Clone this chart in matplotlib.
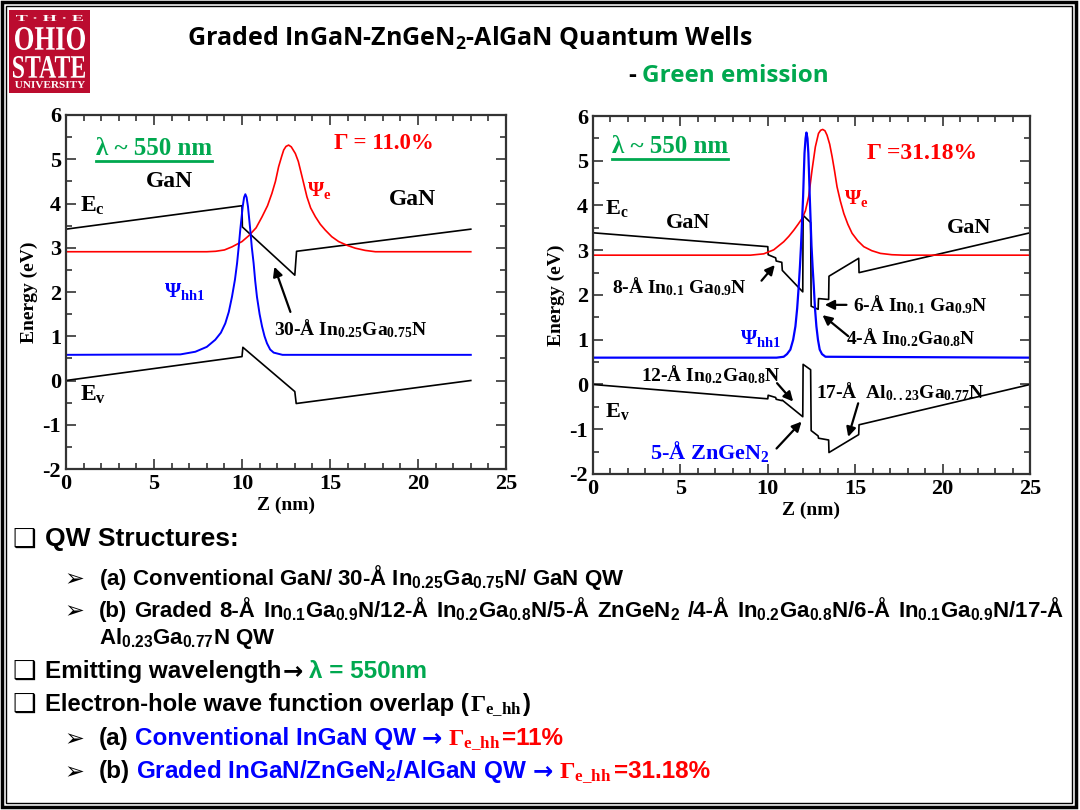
import numpy as np
import matplotlib
matplotlib.use("Agg")
import matplotlib.pyplot as plt
from matplotlib.ticker import MultipleLocator
from matplotlib.textpath import TextPath
from matplotlib.patches import PathPatch, Rectangle
from matplotlib.font_manager import FontProperties
from matplotlib.transforms import Affine2D
from matplotlib.lines import Line2D

# (a) conventional GaN / 30-A In0.25Ga0.75N / GaN QW
z_ec_a = [0, 10.0, 10.02, 13.0, 13.1, 23.0]
ec_a = [3.42, 3.95, 3.47, 2.38, 2.92, 3.42]
z_ev_a = [0, 10.0, 10.05, 13.0, 13.08, 23.0]
ev_a = [0.0, 0.54, 0.75, -0.25, -0.52, 0.0]
z_psie_a = [0, 8.0, 8.5, 9.0, 9.43, 10.0, 10.38, 10.8, 11.14, 11.45, 11.7, 11.9,
            12.08, 12.25, 12.37, 12.5, 12.65, 12.8, 13.03, 13.2, 13.41, 13.69,
            13.9, 14.17, 14.45, 14.73, 15.1, 15.49, 16.0, 16.44, 17.0, 17.58, 23.0]
psie_a = [2.91, 2.91, 2.92, 2.95, 3.02, 3.14, 3.27, 3.45, 3.70, 3.95, 4.23, 4.50,
          4.83, 5.06, 5.21, 5.29, 5.32, 5.28, 5.13, 4.95, 4.61, 4.15,
          3.90, 3.70, 3.53, 3.40, 3.25, 3.14, 3.05, 2.99, 2.94, 2.91, 2.91]
z_psih_a = [0, 6.5, 7.35, 8.0, 8.48, 8.8, 9.05, 9.25, 9.43, 9.6, 9.72, 9.82, 9.9,
            10.04, 10.12, 10.19, 10.26, 10.34, 10.47, 10.56, 10.66, 10.75, 10.85,
            11.0, 11.14, 11.28, 11.42, 11.6, 11.8, 12.3, 23.0]
psih_a = [0.58, 0.59, 0.65, 0.76, 0.92, 1.08, 1.29, 1.55, 1.89, 2.28, 2.65, 3.05, 3.40,
          3.93, 4.14, 4.21, 4.14, 3.93, 3.40, 3.0, 2.65, 2.25, 1.89,
          1.5, 1.22, 1.0, 0.84, 0.70, 0.63, 0.58, 0.58]

# (b) graded InGaN / ZnGeN2 / AlGaN QW
z_band_b = [0, 10.0, 10.02, 10.45, 10.48, 10.8, 10.83, 12.0, 12.02, 12.45, 12.48,
            12.88, 12.9, 13.48, 13.5, 15.2, 15.22, 25]
ec_b = [3.39, 3.08, 2.90, 2.83, 2.76, 2.73, 2.55, 2.07, 3.78, 3.62, 1.75,
        1.68, 1.92, 1.90, 2.42, 2.82, 2.50, 3.39]
ev_b = [0.0, -0.32, -0.24, -0.29, -0.33, -0.36, -0.35, -0.72, 0.45, 0.33, -1.03,
        -1.15, -1.20, -1.24, -1.52, -1.12, -0.90, 0.0]
z_psie_b = [0, 9.0, 9.77, 10.34, 10.91, 11.2, 11.49, 11.75, 11.96, 12.15, 12.34,
            12.53, 12.72, 12.9, 13.02, 13.14, 13.27, 13.39, 13.54, 13.68, 13.82,
            13.96, 14.15, 14.35, 14.58, 14.82, 15.15, 15.49, 15.95, 16.44, 17.1, 17.78, 25]
psie_b = [2.89, 2.89, 2.92, 3.01, 3.19, 3.31, 3.45, 3.59, 3.71, 3.88, 4.20,
          4.79, 5.31, 5.61, 5.68, 5.70, 5.67, 5.57, 5.37, 5.09, 4.77,
          4.42, 4.10, 3.82, 3.58, 3.38, 3.21, 3.08, 2.99, 2.93, 2.90, 2.89, 2.89]
z_psih_b = [0, 10.5, 10.91, 11.1, 11.29, 11.45, 11.58, 11.68, 11.77, 11.84, 11.9,
            11.96, 12.02, 12.06, 12.1, 12.16, 12.21, 12.27, 12.32, 12.36, 12.4,
            12.45, 12.5, 12.56, 12.63, 12.7, 12.78, 12.87, 12.97, 13.1, 13.3, 25]
psih_b = [0.60, 0.60, 0.62, 0.68, 0.78, 1.0, 1.3, 1.7, 2.2, 2.65, 3.1,
          3.65, 4.2, 4.7, 5.17, 5.5, 5.63, 5.5, 5.17, 4.7, 4.2,
          3.65, 3.1, 2.65, 2.2, 1.7, 1.3, 1.0, 0.78, 0.68, 0.62, 0.60]

GREEN = "#00a84f"
RED = "#ff0000"
BLUE = "#0000ff"
W, H = 1080, 810

plt.rcParams["font.family"] = ["Liberation Serif", "DejaVu Serif"]
plt.rcParams["font.weight"] = "bold"
plt.rcParams["axes.labelweight"] = "bold"
plt.rcParams["mathtext.default"] = "regular"
plt.rcParams["axes.unicode_minus"] = False

fig = plt.figure(figsize=(10.8, 8.1), dpi=100)
fig.patch.set_facecolor("white")
renderer = fig.canvas.get_renderer()


def fx(x):
    return x / W


def fy(y):
    return 1 - y / H


def rect_px(x0, y0, x1, y1, **kw):
    r = Rectangle((fx(x0), fy(y1)), (x1 - x0) / W, (y1 - y0) / H,
                  transform=fig.transFigure, **kw)
    fig.add_artist(r)


def fit_text(s, x0, y0, x1, y1):
    tp = TextPath((0, 0), s, size=10, prop=FontProperties(family="Liberation Serif"))
    bb = tp.get_extents()
    tr = (Affine2D().translate(-bb.x0, -bb.y0)
          .scale((x1 - x0) / bb.width / W, (y1 - y0) / bb.height / H)
          .translate(fx(x0), fy(y1)) + fig.transFigure)
    fig.add_artist(PathPatch(tp, transform=tr, color="white", lw=0))


def seq(x, y, parts, size):
    # parts: (text, color, family, gap after in px)
    for s, c, fam, gap in parts:
        t = fig.text(fx(x), fy(y), s, color=c, fontsize=size, family=fam,
                     fontweight="bold", va="baseline")
        x += t.get_window_extent(renderer).width + gap
    return x


def underline(t, color):
    bb = t.get_window_extent(renderer)
    y = bb.y0 - 1
    fig.add_artist(Line2D([bb.x0 / W, bb.x1 / W], [y / H, y / H], color=color,
                          lw=2, transform=fig.transFigure))


def style(ax):
    xt = np.arange(0, 26, 5)
    yt = np.arange(-2, 7, 1)
    ax.set_xticks(xt, labels=[f"{v:g}" for v in xt], fontweight="bold", fontsize=16)
    ax.set_yticks(yt, labels=[f"{v:g}" for v in yt], fontweight="bold", fontsize=16)
    ax.xaxis.set_minor_locator(MultipleLocator(1))
    ax.yaxis.set_minor_locator(MultipleLocator(0.5))
    ax.set_xlim(0, 25)
    ax.set_ylim(-2, 6)
    ax.tick_params(which="both", direction="in", top=True, right=True,
                   width=1.2, color="#333333")
    ax.tick_params(which="major", length=7)
    ax.tick_params(which="minor", length=4)
    for sp in ax.spines.values():
        sp.set_linewidth(1.6)
        sp.set_color("#333333")
    ax.set_xlabel("Z (nm)", fontsize=14, fontweight="bold", labelpad=2)
    ax.set_ylabel("Energy (eV)", fontsize=14, fontweight="bold", labelpad=3)


arrow = dict(arrowstyle="-|>", color="black", lw=1.6, mutation_scale=14,
             shrinkA=0, shrinkB=0)

# ---- left panel
ax1 = fig.add_axes([66 / W, 1 - 469 / H, 440 / W, 354 / H])
ax1.plot(z_ec_a, ec_a, color="black", lw=1.2)
ax1.plot(z_ev_a, ev_a, color="black", lw=1.2)
ax1.plot(z_psie_a, psie_a, color=RED, lw=1.2)
ax1.plot(z_psih_a, psih_a, color=BLUE, lw=1.4)
style(ax1)
lam1 = ax1.text(1.7, 5.25, "λ ~ 550 nm", color=GREEN, fontsize=18, va="center")
ax1.text(15.2, 5.36, "Γ = 11.0%", color=RED, fontsize=16.5, va="center")
ax1.text(5.9, 4.49, "GaN", ha="center", va="center", fontsize=17)
ax1.text(19.7, 4.09, "GaN", ha="center", va="center", fontsize=17)
ax1.text(0.81, 3.95, "E$_c$", va="center", fontsize=17)
ax1.text(0.81, -0.33, "E$_v$", va="center", fontsize=17)
ax1.text(13.7, 4.3, "Ψ$_e$", color=RED, va="center", fontsize=15)
ax1.text(5.55, 2.0, "Ψ$_{hh1}$", color=BLUE, va="center", fontsize=15)
ax1.text(11.8, 1.18, "30-Å In$_{0.25}$Ga$_{0.75}$N", va="center", fontsize=14)
ax1.annotate("", xy=(11.84, 2.57), xytext=(12.75, 1.55), arrowprops=arrow)

# ---- right panel
ax2 = fig.add_axes([593 / W, 1 - 474 / H, 437 / W, 358 / H])
ax2.plot(z_band_b, ec_b, color="black", lw=1.2)
ax2.plot(z_band_b, ev_b, color="black", lw=1.2)
ax2.plot(z_psie_b, psie_b, color=RED, lw=1.2)
ax2.plot(z_psih_b, psih_b, color=BLUE, lw=1.6)
style(ax2)
lam2 = ax2.text(1.1, 5.31, "λ ~ 550 nm", color=GREEN, fontsize=18, va="center")
ax2.text(15.7, 5.17, "Γ =31.18%", color=RED, fontsize=17, va="center")
ax2.text(0.67, 3.94, "E$_c$", va="center", fontsize=16)
ax2.text(0.67, -0.61, "E$_v$", va="center", fontsize=16)
ax2.text(5.44, 3.6, "GaN", ha="center", va="center", fontsize=16)
ax2.text(21.5, 3.49, "GaN", ha="center", va="center", fontsize=16)
ax2.text(14.35, 4.16, "Ψ$_e$", color=RED, va="center", fontsize=15)
ax2.text(8.4, 1.03, "Ψ$_{hh1}$", color=BLUE, va="center", fontsize=15)
ax2.text(1.1, 2.19, "8-Å In$_{0.1}$ Ga$_{0.9}$N", va="center", fontsize=14)
ax2.annotate("", xy=(10.4, 2.67), xytext=(9.64, 2.32), arrowprops=arrow)
ax2.text(14.85, 1.78, "6-Å In$_{0.1}$ Ga$_{0.9}$N", va="center", fontsize=14)
ax2.annotate("", xy=(13.26, 1.78), xytext=(14.5, 1.78), arrowprops=arrow)
ax2.text(14.47, 1.05, "4-Å In$_{0.2}$Ga$_{0.8}$N", va="center", fontsize=14)
ax2.annotate("", xy=(13.13, 1.55), xytext=(14.6, 1.08), arrowprops=arrow)
ax2.text(2.77, 0.21, "12-Å In$_{0.2}$Ga$_{0.8}$N", va="center", fontsize=14)
ax2.annotate("", xy=(11.45, -0.38), xytext=(10.53, 0.03), arrowprops=arrow)
ax2.text(12.75, -0.16, "17-Å  Al$_{0..23}$Ga$_{0.77}$N", va="center", fontsize=14)
ax2.annotate("", xy=(14.6, -1.17), xytext=(15.17, -0.42), arrowprops=arrow)
ax2.text(3.28, -1.5, "5-Å ZnGeN$_2$", color=BLUE, va="center", fontsize=16)
ax2.annotate("", xy=(11.93, -0.83), xytext=(10.5, -1.43), arrowprops=arrow)

underline(lam1, GREEN)
underline(lam2, GREEN)

# ---- slide frame and logo
rect_px(2, 2, 1076, 807, fill=False, lw=2.5, ec="black")
rect_px(6, 6, 1072, 803, fill=False, lw=1, ec="black")
rect_px(9, 10, 90, 93, fc="#bb0c2f", ec="none")
fit_text("T · H · E", 16, 15, 83, 21)
fit_text("OHIO", 15, 27, 85, 50)
fit_text("STATE", 13, 56, 85, 78)
fit_text("UNIVERSITY", 15, 81, 85, 88)

sans = ["Open Sans", "DejaVu Sans"]
fig.text(fx(187), fy(38), "Graded InGaN-ZnGeN$_2$-AlGaN Quantum Wells", family=sans,
         fontweight="bold", fontsize=18, va="center")
seq(628, 82, [("-", "black", sans, 6), ("Green emission", GREEN, sans, 0)], 17.5)

# ---- bullet text
arial = ["Liberation Sans", "DejaVu Sans"]
serif = ["Liberation Serif", "DejaVu Serif"]
box = ["DejaVu Sans"]
for yb in (547, 679, 712):
    fig.text(fx(12), fy(yb), "❑", family=box, fontsize=19, va="baseline")
for yb in (586, 618, 746, 779):
    fig.text(fx(64), fy(yb), "➢", family=box, fontsize=17, va="baseline")

fig.text(fx(45), fy(546), "QW Structures:", family=arial, fontweight="bold",
         fontsize=19, va="baseline")
fig.text(fx(99), fy(585), "(a) Conventional GaN/ 30-Å In$_{0.25}$Ga$_{0.75}$N/ GaN QW",
         family=arial, fontweight="bold", fontsize=16, va="baseline")

words_b = ["(b)", "Graded", "8-Å", "In$_{0.1}$Ga$_{0.9}$N/12-Å", "In$_{0.2}$Ga$_{0.8}$N/5-Å",
           "ZnGeN$_2$", "/4-Å", "In$_{0.2}$Ga$_{0.8}$N/6-Å", "In$_{0.1}$Ga$_{0.9}$N/17-Å"]
objs = [fig.text(0, fy(617), w, family=arial, fontweight="bold", fontsize=16,
                 va="baseline") for w in words_b]
widths = [o.get_window_extent(renderer).width for o in objs]
gap = (1064 - 99 - sum(widths)) / (len(words_b) - 1)
xw = 99
for o, wd in zip(objs, widths):
    o.set_x(fx(xw))
    xw += wd + gap
fig.text(fx(99), fy(644), "Al$_{0.23}$Ga$_{0.77}$N QW", family=arial, fontweight="bold",
         fontsize=16, va="baseline")

dv = ["DejaVu Sans"]
sp = 6
seq(45, 678, [("Emitting wavelength", "black", arial, 1),
              ("→", "black", dv, sp),
              ("λ = 550nm", GREEN, arial, 0)], 17.5)
seq(45, 711, [("Electron-hole wave function overlap (", "black", arial, 1),
              (r"Γ$_{e\_hh}$", "black", serif, 1),
              (")", "black", arial, 0)], 17.2)
seq(99, 745, [("(a)", "black", arial, sp),
              ("Conventional InGaN QW", BLUE, arial, sp),
              ("→", BLUE, dv, sp),
              (r"Γ$_{e\_hh}$", RED, serif, 2),
              ("=11%", RED, arial, 0)], 17.5)
seq(99, 778, [("(b)", "black", arial, sp),
              ("Graded InGaN/ZnGeN$_2$/AlGaN QW", BLUE, arial, sp),
              ("→", BLUE, dv, sp),
              (r"Γ$_{e\_hh}$", RED, serif, 2),
              ("=31.18%", RED, arial, 0)], 17.5)

fig.savefig("out.png", dpi=100)
